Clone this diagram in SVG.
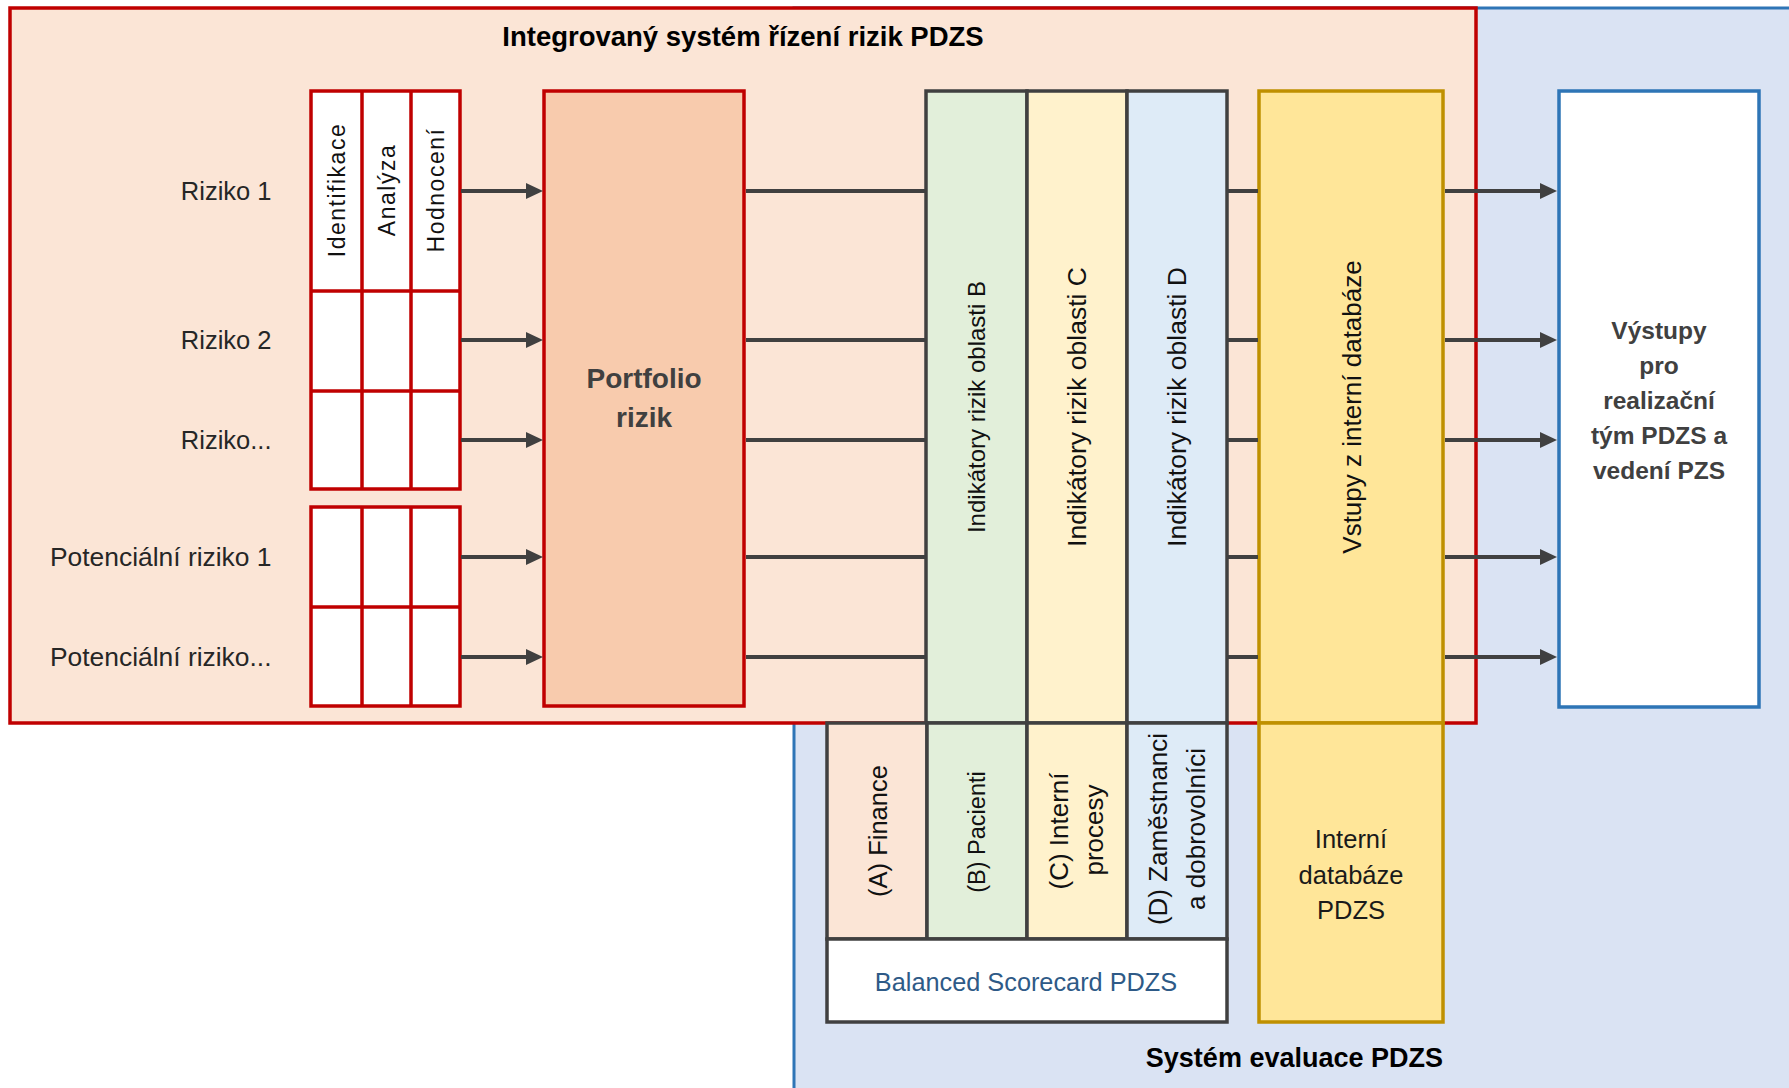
<svg xmlns="http://www.w3.org/2000/svg" width="1789" height="1088" viewBox="0 0 1789 1088">
<style>
text{font-family:"Liberation Sans",Arial,sans-serif;}
.lbl{font-size:25.5px;fill:#262626;text-anchor:end;}
.lbl2{font-size:26.4px;}
.rot{fill:#111;text-anchor:middle;}
.red{stroke:#c00000;stroke-width:3.5;}
.gray{stroke:#404040;stroke-width:3.5;}
.gold{stroke:#bf9000;stroke-width:3.5;fill:#ffe699;}
.conn{stroke:#404040;stroke-width:4;fill:none;}
.arr{marker-end:url(#ah);}
.bold{font-weight:bold;}
</style>
<defs>
<marker id="ah" markerUnits="userSpaceOnUse" markerWidth="18" markerHeight="16" refX="1" refY="8" orient="auto">
<path d="M0,0 L17,8 L0,16 z" fill="#404040"/>
</marker>
</defs>
<rect width="1789" height="1088" fill="#ffffff"/>
<g id="system-evaluace">
<rect x="794" y="8" width="1010" height="1100" fill="#dae3f3" stroke="#2e75b6" stroke-width="3"/>
<text x="1443" y="1067" class="bold" font-size="27" text-anchor="end" fill="#000">Systém evaluace PDZS</text>
</g>
<g id="integrovany-system">
<rect x="10" y="8" width="1466" height="715" fill="#fbe5d6" class="red"/>
<text x="743" y="46" class="bold" font-size="27.5" text-anchor="middle" fill="#000">Integrovaný systém řízení rizik PDZS</text>
</g>
<g id="rizika-labels">
<text class="lbl" x="271.5" y="200">Riziko 1</text>
<text class="lbl" x="271.5" y="349">Riziko 2</text>
<text class="lbl" x="271.5" y="449">Riziko...</text>
<text class="lbl lbl2" x="271.5" y="566">Potenciální riziko 1</text>
<text class="lbl lbl2" x="271.5" y="666">Potenciální riziko...</text>
</g>
<g id="tabulka-rizika">
<rect x="311" y="91" width="149" height="398" fill="#fff" class="red"/>
<path d="M362,91V489M411,91V489M311,291H460M311,391H460" class="red" fill="none"/>
<g class="rot" font-size="23" letter-spacing="1.5">
<text transform="translate(337,190) rotate(-90)" dy="0.35em">Identifikace</text>
<text transform="translate(386.5,190) rotate(-90)" dy="0.35em">Analýza</text>
<text transform="translate(435.5,190) rotate(-90)" dy="0.35em">Hodnocení</text>
</g>
</g>
<g id="tabulka-potencialni">
<rect x="311" y="507" width="149" height="199" fill="#fff" class="red"/>
<path d="M362,507V706M411,507V706M311,607H460" class="red" fill="none"/>
</g>
<g id="portfolio-rizik">
<rect x="544" y="91" width="200" height="615" fill="#f8cbad" class="red"/>
<text x="644" y="388" class="bold" font-size="28" text-anchor="middle" fill="#404040">Portfolio</text>
<text x="644" y="427" class="bold" font-size="28" text-anchor="middle" fill="#404040">rizik</text>
</g>
<g id="indikatory">
<rect x="926" y="91" width="101" height="632" fill="#e2efda" class="gray"/>
<rect x="1027" y="91" width="100" height="632" fill="#fff2cc" class="gray"/>
<rect x="1127" y="91" width="100" height="632" fill="#deebf7" class="gray"/>
<text class="rot" font-size="24" transform="translate(977,407) rotate(-90)" dy="0.35em">Indikátory rizik oblasti B</text>
<text class="rot" font-size="26.5" transform="translate(1077,407) rotate(-90)" dy="0.35em">Indikátory rizik oblasti C</text>
<text class="rot" font-size="26.5" transform="translate(1177,407) rotate(-90)" dy="0.35em">Indikátory rizik oblasti D</text>
</g>
<g id="balanced-scorecard">
<rect x="827" y="723" width="100" height="216" fill="#fbe5d6" class="gray"/>
<rect x="927" y="723" width="100" height="216" fill="#e2efda" class="gray"/>
<rect x="1027" y="723" width="100" height="216" fill="#fff2cc" class="gray"/>
<rect x="1127" y="723" width="100" height="216" fill="#deebf7" class="gray"/>
<rect x="827" y="939" width="400" height="83" fill="#ffffff" class="gray"/>
<text class="rot" font-size="25.5" transform="translate(878.5,831) rotate(-90)" dy="0.35em">(A) Finance</text>
<text class="rot" font-size="23.5" transform="translate(977,832) rotate(-90)" dy="0.35em">(B) Pacienti</text>
<text class="rot" font-size="26" transform="translate(1067.5,831) rotate(-90)">(C) Interní</text>
<text class="rot" font-size="26" transform="translate(1103,830) rotate(-90)">procesy</text>
<text class="rot" font-size="26" transform="translate(1167,829) rotate(-90)">(D) Zaměstnanci</text>
<text class="rot" font-size="26" transform="translate(1204.5,829) rotate(-90)">a dobrovolníci</text>
<text x="1026" y="991" font-size="25.3" text-anchor="middle" fill="#2e5a87">Balanced Scorecard PDZS</text>
</g>
<g id="vstupy-databaze">
<rect x="1259" y="91" width="184" height="632" class="gold"/>
<text class="rot" font-size="26" transform="translate(1352,407) rotate(-90)" dy="0.35em">Vstupy z interní databáze</text>
</g>
<g id="interni-databaze">
<rect x="1259" y="723" width="184" height="299" class="gold"/>
<g font-size="25.5" text-anchor="middle" fill="#1a1a1a">
<text x="1351" y="848">Interní</text>
<text x="1351" y="884">databáze</text>
<text x="1351" y="919">PDZS</text>
</g>
</g>
<g id="vystupy">
<rect x="1559" y="91" width="200" height="616" fill="#ffffff" stroke="#2e75b6" stroke-width="3.5"/>
<g class="bold" font-size="24.5" text-anchor="middle" fill="#404040">
<text x="1659" y="339">Výstupy</text>
<text x="1659" y="374">pro</text>
<text x="1659" y="409">realizační</text>
<text x="1659" y="444">tým PDZS a</text>
<text x="1659" y="479">vedení PZS</text>
</g>
</g>
<g id="connectors" class="conn">
<path class="arr" d="M461,191H527"/>
<path class="arr" d="M461,340H527"/>
<path class="arr" d="M461,440H527"/>
<path class="arr" d="M461,557H527"/>
<path class="arr" d="M461,657H527"/>
<path d="M746,191H925M746,340H925M746,440H925M746,557H925M746,657H925"/>
<path d="M1228,191H1258M1228,340H1258M1228,440H1258M1228,557H1258M1228,657H1258"/>
<path class="arr" d="M1445,191H1541"/>
<path class="arr" d="M1445,340H1541"/>
<path class="arr" d="M1445,440H1541"/>
<path class="arr" d="M1445,557H1541"/>
<path class="arr" d="M1445,657H1541"/>
</g>
</svg>
